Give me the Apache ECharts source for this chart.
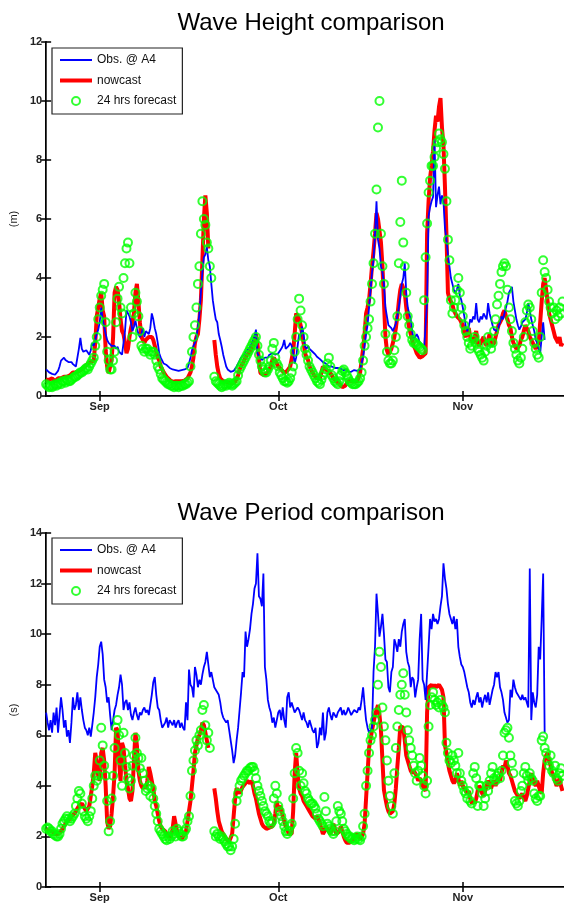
<!DOCTYPE html>
<html><head><meta charset="utf-8">
<script src="https://cdn.jsdelivr.net/npm/echarts@6/dist/echarts.min.js"></script>
<style>html,body{margin:0;padding:0;background:#fff}#c{width:564px;height:907px}</style>
</head><body><div id="c"></div>
<script>
// 6-hourly samples, day 0 = 23 Aug 00:00
const STEP_DAYS = 0.25;
const X_MAX_DAYS = 87;
const monthTickDays = [9, 39, 70];
const monthTickLabels = ['Sep', 'Oct', 'Nov'];
const seriesNames = ['Obs. @ A4', 'nowcast', '24 hrs forecast'];
const titles = ['Wave Height comparison', 'Wave Period comparison'];
const unitLabels = ['(m)', '(s)'];

// ---- Wave height (m) ----
const obsHs = [
0.9,0.85,0.8,0.78, 0.75,0.8,0.72,0.78, 0.85,1.0,1.2,1.25, 1.3,1.22,1.25,1.15, 1.1,1.15,1.08,1.1,
1.0,1.05,1.6,1.97, 1.6,1.5,1.45,1.55, 1.5,1.4,1.55,1.8, 1.7,1.9,2.1,2.25, 2.5,3.0,2.6,2.35,
2.1,1.9,1.8,1.75, 1.7,1.65,1.7,1.6, 1.67,1.5,1.45,1.4, 1.45,2.2,2.9,2.8, 2.7,2.5,2.2,2.35,
2.55,2.3,2.1,2.0, 2.1,2.3,2.0,2.2, 2.25,2.1,2.3,2.8, 2.6,2.3,2.1,1.8, 1.45,1.3,1.2,1.1,
1.1,1.05,1.0,0.95, 0.94,0.9,0.92,0.88, 0.88,0.85,0.9,0.88, 0.88,0.9,0.85,0.95, 1.1,1.3,1.55,1.7,
1.8,2.0,2.35,2.8, 3.5,4.2,4.7,4.8, 5.05,4.6,4.4,3.8, 3.25,2.9,2.6,2.5, 2.1,1.9,1.67,1.4,
1.2,1.0,0.9,0.85, 0.82,0.8,0.85,0.9, 1.0,1.1,1.2,1.3, 1.33,1.4,1.5,1.55, 1.6,1.67,1.7,1.9,
2.0,2.25,1.45,1.35, 1.3,1.22,1.2,1.3, 1.25,1.3,1.4,1.45, 1.45,1.5,1.4,1.45, 1.45,1.5,1.6,1.7,
1.9,1.6,1.55,1.7, 1.8,1.7,1.5,1.1, 1.3,1.7,2.1,2.0, 2.35,2.1,1.67,1.6, 1.7,1.6,1.55,1.5,
1.45,1.4,1.33,1.3, 1.25,1.2,1.15,1.1, 1.1,1.05,1.0,1.05, 1.0,1.0,0.95,1.0, 0.95,0.9,0.92,0.88,
0.88,0.85,0.9,0.82, 0.85,0.82,0.85,0.88, 0.9,0.85,0.88,0.9, 0.88,1.33,1.7,2.1, 2.4,3.0,3.6,4.2,
4.6,5.5,6.6,5.3, 5.0,4.4,4.2,3.8, 3.0,2.7,2.4,2.35, 2.3,2.2,2.25,2.45, 2.7,3.0,3.4,3.8,
4.0,4.5,3.5,3.0, 2.8,2.6,2.2,1.9, 1.9,2.1,2.0,1.8, 1.8,1.7,1.6,1.55, 3.2,6.1,6.4,6.6,
6.75,8.7,6.4,6.8, 7.1,6.5,6.8,6.6, 5.7,5.3,4.8,4.4, 4.0,3.8,3.6,3.5, 3.6,3.8,3.4,3.25,
3.0,2.7,2.35,2.2, 2.35,2.6,2.5,2.7, 2.6,3.15,2.6,2.5, 2.7,2.6,2.8,2.7, 2.6,3.15,2.8,2.6,
2.4,2.25,2.3,2.2, 2.25,2.5,2.7,2.6, 2.8,3.0,3.2,3.5, 3.6,3.7,3.2,2.9, 2.6,2.4,2.25,2.35,
2.5,2.45,2.6,2.8, 3.15,2.9,2.6,2.4, 2.2,1.9,1.8,1.6, 1.45,2.0,2.5,1.9
];
const nowHs = [
0.55,0.5,0.55,0.6, 0.6,0.55,0.5,0.55, 0.6,0.55,0.6,0.6, 0.65,0.6,0.65,0.7, 0.7,0.75,0.8,0.75,
0.8,0.85,0.85,0.9, 0.9,0.95,1.0,1.05, 1.1,1.1,1.15,1.2, 1.2,1.8,2.7,3.0, 3.3,3.5,2.9,2.7,
1.55,1.0,0.78,1.0, 1.22,2.0,3.5,3.7, 3.6,3.2,2.6,2.2, 2.1,1.8,1.45,1.6, 2.0,2.3,2.5,2.8,
3.5,3.8,3.2,2.5, 2.0,1.9,1.8,1.9, 1.9,2.0,1.95,2.0, 1.9,1.7,1.5,1.3, 1.2,1.0,0.9,0.8,
0.75,0.65,0.6,0.55, 0.5,0.48,0.48,0.5, 0.48,0.5,0.48,0.5, 0.5,0.52,0.55,0.6, 0.65,0.8,1.0,1.3,
1.8,2.0,2.1,2.6, 3.25,4.6,6.0,6.8, 6.2,5.0,null,null, null,1.9,1.4,1.0, 0.75,0.6,0.55,0.5,
0.5,0.48,0.45,0.45, 0.45,0.42,0.45,0.48, 0.5,0.7,0.9,1.0, 1.1,1.2,1.3,1.4, 1.45,1.5,1.6,1.7,
1.9,2.1,1.8,1.2, 0.78,0.75,0.72,0.75, 0.75,0.8,0.9,1.0, 1.22,1.3,1.2,1.1, 1.0,0.95,0.9,0.85,
0.78,0.8,0.85,0.9, 1.0,1.0,1.5,2.1, 2.8,2.7,2.6,2.4, 2.1,1.8,1.45,1.3, 1.22,1.0,0.9,0.8,
0.7,0.65,0.6,0.6, 0.6,0.8,1.0,0.95, 0.9,0.88,0.85,0.8, 0.7,0.6,0.55,0.5, 0.45,0.4,0.35,0.3,
0.3,0.35,0.4,0.5, 0.55,0.5,0.48,0.5, 0.5,0.5,0.55,0.8, 1.2,1.6,2.1,2.8, 3.0,3.25,3.8,4.4,
4.9,5.5,6.2,6.0, 5.6,5.2,4.4,3.2, 2.0,1.55,1.4,1.5, 1.6,1.8,2.0,2.3, 2.7,3.2,3.6,3.8,
3.8,3.5,3.0,2.6, 2.3,2.1,1.9,1.7, 1.6,1.45,1.4,1.3, 1.3,1.35,1.4,1.45, 5.5,6.6,7.4,7.8,
8.3,9.0,9.5,9.3, 9.8,10.1,9.1,8.5, 7.1,5.5,3.5,3.3, 3.25,3.1,2.9,2.8, 2.7,2.7,2.6,2.5,
2.4,2.1,2.0,2.2, 2.3,2.0,1.9,1.8, 2.0,2.2,1.8,1.7, 1.8,1.9,2.0,1.8, 1.7,1.9,2.1,1.7,
1.65,1.8,2.0,2.2, 2.4,2.5,2.6,2.8, 2.9,2.7,2.6,2.4, 2.3,2.0,1.8,1.7, 1.6,1.55,1.7,1.9,
2.0,2.2,2.4,2.3, 2.2,2.0,1.9,1.8, 1.7,1.6,1.6,1.8, 2.5,3.2,3.8,4.0, 3.6,3.2,2.8,2.6,
2.4,2.2,2.0,1.9, 1.8,2.0,1.7,1.8
];
const fcstHs = [
0.4,0.35,0.3,0.35, 0.3,0.35,0.4,0.35, 0.4,0.45,0.4,0.5, 0.5,0.45,0.55,0.5, 0.5,0.55,0.6,0.65,
0.65,0.7,0.75,0.8, 0.8,0.85,0.9,0.95, 0.9,1.0,1.1,1.2, 1.3,1.7,2.0,2.6, 3.0,3.4,3.6,3.8,
2.5,1.5,1.2,0.9, 0.9,1.2,1.5,2.5, 3.3,3.7,3.0,2.8, 4.0,4.5,5.0,5.2, 4.5,3.0,2.0,2.8,
3.5,3.2,2.7,2.2, 1.7,1.6,1.5,1.6, 1.6,1.5,1.4,1.5, 1.5,1.4,1.2,1.0, 0.9,0.75,0.6,0.55,
0.5,0.45,0.4,0.4, 0.35,0.35,0.3,0.35, 0.35,0.3,0.35,0.35, 0.35,0.4,0.4,0.45, 0.5,1.0,1.5,2.0,
2.4,3.0,3.8,4.4, 5.5,6.6,6.0,5.8, 5.2,5.0,4.4,4.0, null,0.65,0.5,0.45, 0.4,0.35,0.3,0.35,
0.4,0.35,0.4,0.45, 0.4,0.35,0.4,0.45, 0.5,0.7,0.9,1.0, 1.1,1.2,1.3,1.4, 1.5,1.6,1.7,1.8,
1.9,2.0,1.7,1.4, 1.2,1.0,0.9,0.8, 0.8,0.9,1.0,1.2, 1.6,1.8,1.3,1.1, 1.0,0.8,0.7,0.6,
0.5,0.5,0.45,0.5, 0.6,0.8,1.0,1.5, 2.0,2.6,3.3,2.9, 2.4,2.0,1.6,1.4, 1.2,1.0,0.9,0.8,
0.7,0.6,0.5,0.45, 0.4,0.55,0.7,0.8, 0.9,1.1,1.3,1.0, 0.7,0.6,0.5,0.45, 0.4,0.5,0.7,0.85,
0.9,0.8,0.7,0.6, 0.5,0.45,0.4,0.4, 0.4,0.45,0.5,0.6, 0.8,1.2,1.7,2.0, 2.3,2.6,3.2,3.8,
4.5,5.5,7.0,9.1, 10.0,5.5,4.4,3.8, 2.1,1.5,1.2,1.1, 1.1,1.2,1.55,2.0, 2.7,4.5,5.9,7.3,
5.2,4.4,3.5,2.7, 2.4,2.1,1.9,1.8, 1.8,1.75,1.7,1.65, 1.6,1.55,3.25,4.7, 5.85,6.9,7.3,7.8,
7.8,8.1,8.4,8.6, 8.9,8.7,8.6,8.2, 7.7,6.6,5.3,4.6, 3.25,2.8,3.0,3.25, 3.6,4.0,3.5,3.0,
2.7,2.4,2.2,2.0, 1.8,1.6,1.7,1.9, 2.0,1.8,1.6,1.5, 1.4,1.3,1.2,1.5, 1.7,2.0,1.8,1.6,
1.8,2.2,2.6,3.1, 3.4,3.8,4.2,4.4, 4.5,4.4,3.6,3.0, 2.6,2.2,1.8,1.6, 1.4,1.2,1.1,1.3,
1.6,2.0,2.5,2.9, 3.1,3.0,2.6,2.2, 1.8,1.6,1.4,1.3, 2.0,3.5,4.6,4.2, 4.0,3.6,3.2,3.0,
2.8,3.0,2.6,2.9, 2.7,3.0,2.8,3.2
];

// ---- Wave period (s) ----
const obsTp = [
6.9,6.5,6.2,6.6, 6.1,6.9,6.4,7.1, 6.1,6.8,7.5,7.0, 6.3,6.6,5.95,6.2, 5.7,6.5,7.5,7.0,
7.2,7.7,7.0,7.5, 7.0,6.6,6.3,6.2, 6.0,6.3,5.95,6.4, 6.9,7.5,8.3,8.8, 9.5,9.7,9.2,8.2,
7.9,7.3,7.5,6.8, 6.2,6.6,7.0,7.2, 7.6,7.9,8.4,8.0, 7.0,7.3,7.4,7.0, 7.3,6.8,6.6,6.9,
7.1,6.8,6.6,6.9, 6.8,7.0,7.1,6.9, 7.0,6.8,7.2,7.6, 8.1,8.3,7.6,7.1, 7.0,6.6,6.3,6.4,
6.5,6.7,6.3,6.6, 6.5,6.4,6.6,6.3, 6.5,6.6,6.3,6.5, 6.3,6.2,7.3,6.6, 8.6,8.0,7.9,7.5,
8.7,8.4,7.9,8.2, 8.0,8.4,8.7,8.9, 9.3,8.8,8.3,8.5, 8.2,7.9,7.9,7.7, 7.6,7.3,6.9,6.7,
6.6,6.5,6.6,6.2, 5.8,5.4,4.9,5.2, 5.8,6.3,7.0,7.7, 8.5,8.3,10.1,9.5, 9.8,10.2,10.8,11.2,
11.8,12.0,13.2,11.5, 11.4,11.1,12.4,8.7, 8.2,7.4,7.1,6.9, 6.5,6.7,6.3,6.6, 6.9,7.0,6.6,7.1,
6.6,6.3,7.5,7.7, 7.1,7.3,7.1,6.9, 6.9,7.1,7.0,6.8, 6.6,6.9,6.6,6.5, 6.3,6.6,6.4,6.2,
6.1,6.3,5.5,5.7, 6.3,6.0,6.9,5.8, 6.1,6.9,7.1,6.8, 6.6,6.9,6.9,6.7, 6.9,7.0,7.1,6.8,
7.0,6.8,6.9,7.1, 7.1,6.8,6.9,7.0, 7.0,6.9,7.1,7.0, 7.4,7.9,7.2,6.6, 6.3,6.1,6.2,6.3,
8.5,9.5,11.6,10.8, 9.9,10.3,10.8,10.0, 9.0,8.9,7.9,7.7, 8.5,8.7,9.8,9.6, 9.3,9.8,9.5,10.1,
10.4,10.6,9.3,8.9, 8.7,7.9,8.3,8.2, 7.5,7.9,8.2,9.8, 10.8,8.2,8.0,7.4, 7.4,9.5,10.6,10.2,
10.8,10.5,10.6,10.4, 10.6,11.1,11.5,12.8, 12.2,11.8,11.2,10.8, 10.6,10.4,10.7,10.2, 10.6,9.5,9.1,8.8,
8.7,8.5,8.2,7.9, 7.7,7.3,7.1,7.4, 7.2,7.5,7.7,7.3, 7.5,7.1,7.4,7.6, 7.3,7.7,7.2,7.5,
7.8,8.0,8.5,8.3, 8.5,7.9,7.7,7.4, 6.9,6.7,6.5,6.6, 7.8,7.5,8.2,7.9, 7.7,7.6,7.5,7.4,
7.6,7.4,7.5,7.3, 7.1,12.6,6.6,7.7, 7.3,7.1,7.6,9.5, 9.0,10.6,12.4,6.1
];
const nowTp = [
2.3,2.25,2.2,2.2, 2.2,2.15,2.1,2.1, 2.1,2.15,2.2,2.3, 2.4,2.5,2.6,2.6, 2.7,2.8,2.8,2.9,
3.0,3.1,3.2,3.2, 3.3,3.2,3.1,3.0, 3.0,3.2,3.6,4.0, 4.5,5.3,5.0,4.4, 4.2,5.3,5.5,5.0,
4.0,2.6,2.3,2.4, 2.9,3.6,4.5,6.3, 6.2,5.0,4.2,5.7, 5.5,4.8,4.2,3.9, 3.5,3.4,3.8,5.0,
6.1,5.6,4.6,4.2, 4.0,3.9,4.0,3.9, 4.2,4.75,4.5,4.2, 3.9,3.4,3.2,2.9, 2.6,2.4,2.3,2.3,
2.2,2.1,2.0,1.95, 2.0,2.3,2.8,2.5, 2.2,2.0,1.95,1.9, 2.0,2.1,2.2,2.6, 3.0,3.4,4.0,4.6,
5.3,5.6,5.9,6.0, 6.2,6.5,6.4,6.1, 5.8,5.5,null,null, null,3.9,3.5,3.0, 2.6,2.4,2.2,2.1,
2.0,1.9,1.85,1.8, 1.85,2.1,2.8,3.5, 3.9,3.8,3.7,3.7, 3.96,4.0,4.1,4.2, 4.2,4.1,4.2,4.0,
3.7,3.5,3.2,2.9, 2.7,2.5,2.4,2.4, 2.3,2.3,2.35,2.3, 2.4,2.5,2.9,3.4, 3.0,3.2,3.1,2.8,
2.6,2.4,2.3,2.1, 2.1,2.1,3.0,4.5, 5.3,4.5,3.9,3.7, 3.6,3.4,3.3,3.2, 3.2,3.0,2.9,2.8,
2.8,2.7,2.8,2.7, 2.5,2.3,2.1,2.2, 2.4,2.3,2.2,2.1, 2.3,2.5,2.3,2.1, 2.1,2.2,2.4,2.2,
2.0,1.85,1.75,1.7, 1.75,1.8,1.9,2.0, 2.0,2.1,2.0,1.9, 2.0,2.1,2.5,3.5, 4.5,5.5,5.85,6.2,
6.5,6.8,7.0,7.2, 6.8,6.2,5.0,3.84, 3.5,3.2,3.0,2.9, 2.9,3.0,3.3,3.9, 4.75,5.5,6.35,6.3,
6.3,5.8,5.2,5.0, 4.8,4.6,4.5,4.6, 4.5,4.4,4.2,4.3, 4.2,4.0,3.9,3.8, 6.9,7.9,7.9,8.0,
7.9,8.0,7.9,7.9, 8.0,7.9,7.8,7.5, 5.6,5.3,4.9,4.6, 4.4,4.2,4.1,4.2, 4.5,4.3,4.0,4.2,
4.0,3.9,3.8,3.7, 3.8,3.5,3.3,3.4, 3.3,3.5,3.8,4.0, 3.9,3.7,3.6,3.8, 4.0,4.2,4.1,3.9,
4.1,4.2,4.0,4.2, 4.3,4.2,4.5,4.8, 4.7,5.0,4.8,4.5, 4.4,4.2,4.0,3.8, 3.7,3.6,3.5,3.6,
3.7,3.5,3.4,3.6, 3.9,4.2,4.5,4.3, 4.1,4.0,4.2,4.0, 3.8,3.7,4.5,5.0, 5.2,5.3,5.0,4.8,
4.5,4.4,4.2,4.0, 4.1,4.3,4.0,3.8
];
const fcstTp = [
2.3,2.35,2.3,2.2, 2.2,2.1,2.05,2.0, 2.0,2.1,2.3,2.5, 2.6,2.7,2.8,2.7, 2.6,2.7,2.8,2.9,
3.2,3.5,3.8,3.7, 3.3,3.0,2.8,2.7, 2.6,2.8,3.0,3.5, 4.0,4.4,4.2,4.4, 5.0,6.3,5.6,4.8,
4.4,3.4,2.2,2.6, 3.5,4.4,5.5,6.3, 6.6,6.0,5.0,4.0, 6.1,5.3,4.75,4.3, 3.9,4.2,4.8,5.2,
5.9,5.3,5.1,4.7, 5.1,4.5,4.2,3.8, 3.9,4.0,3.6,3.9, 3.5,3.2,2.9,2.6, 2.3,2.2,2.1,2.0,
1.9,1.85,2.0,1.9, 2.0,2.2,2.1,2.0, 2.3,2.2,2.1,2.0, 2.0,2.2,2.3,2.6, 2.8,3.6,4.6,5.0,
5.4,5.8,5.6,6.0, 6.2,7.0,7.2,6.4, 5.8,6.1,5.5,null, null,2.2,2.0,2.1, 2.0,1.9,2.0,1.9,
1.8,1.7,1.6,1.6, 1.45,1.6,1.9,2.5, 3.4,3.7,4.0,4.2, 4.3,4.4,4.5,4.6, 4.6,4.7,4.75,4.75,
4.6,4.3,4.0,3.8, 3.6,3.4,3.2,3.0, 2.9,2.8,2.6,2.5, 2.6,3.5,4.0,3.7, 3.2,3.0,2.8,2.6,
2.4,2.2,2.1,2.2, 2.4,2.5,3.5,4.5, 5.5,5.3,4.6,4.0, 4.5,4.1,3.8,3.7, 3.5,3.4,3.3,3.3,
3.2,3.1,2.9,2.7, 2.6,2.5,2.4,3.56, 3.0,2.5,2.4,2.3, 2.2,2.1,2.2,2.6, 3.2,3.0,2.9,2.6,
2.3,2.2,2.1,2.0, 2.0,1.9,1.95,1.85, 1.9,2.0,1.9,1.85, 2.0,2.4,2.9,4.0, 4.6,5.3,5.8,6.0,
6.35,6.6,6.9,8.0, 9.3,8.7,7.1,6.35, 5.8,5.0,4.2,3.6, 3.2,2.9,4.5,5.5, 6.35,7.0,7.6,8.0,
8.45,7.6,6.9,6.2, 5.8,5.5,5.2,4.8, 4.5,4.2,4.6,5.1, 4.8,4.4,4.0,3.7, 4.2,6.35,7.2,7.5,
7.7,7.4,7.2,7.3, 7.1,7.4,7.2,7.1, 6.9,5.7,5.3,5.0, 4.9,5.2,5.0,4.8, 4.5,5.3,4.5,4.2,
4.0,3.8,3.7,3.5, 3.8,3.4,3.3,4.5, 4.75,4.3,3.2,4.0, 4.0,3.7,3.2,3.5, 4.0,3.8,4.2,4.5,
4.75,4.3,4.2,4.4, 4.5,4.3,4.6,5.2, 6.1,6.2,6.3,5.9, 5.2,4.9,4.5,3.4, 3.3,3.2,3.4,3.8,
4.0,4.5,4.75,4.4, 4.2,4.5,4.3,4.2, 3.7,3.5,3.4,3.6, 3.6,5.8,5.95,5.5, 5.3,5.0,4.8,5.2,
4.6,4.5,4.8,4.3, 4.2,4.5,4.7,4.4
];

const panels = [
  {obs: obsHs, now: nowHs, fcst: fcstHs, yMax: 12, top: 42, height: 354, titleTop: 6, legendTop: 48},
  {obs: obsTp, now: nowTp, fcst: fcstTp, yMax: 14, top: 533, height: 354, titleTop: 496, legendTop: 538}
];

const FONT = '"Liberation Sans", Arial, sans-serif';
const COLORS = {obs: '#0000ff', now: '#ff0000', fcst: '#00ff00'};
const toPairs = arr => arr.map((v, i) => [i * STEP_DAYS, v]);
const toPoints = arr => arr.map((v, i) => [i * STEP_DAYS, v]).filter(p => p[1] !== null);
const monthLabel = v => { const k = monthTickDays.indexOf(Math.round(v)); return k >= 0 ? monthTickLabels[k] : ''; };
const hidden = {color: 'rgba(0,0,0,0)', borderColor: 'rgba(0,0,0,0)', borderWidth: 0, opacity: 0};

const option = {
  animation: false,
  backgroundColor: '#fff',
  title: [], legend: [], grid: [], xAxis: [], yAxis: [], series: []
};

panels.forEach((p, g) => {
  option.title.push({
    text: titles[g], left: 306, top: p.titleTop, textAlign: 'center',
    textStyle: {fontFamily: FONT, fontSize: 24, fontWeight: 'normal', color: '#000'}
  });
  option.grid.push({left: 46, top: p.top, width: 520, height: p.height});
  const xBase = {
    gridIndex: g, type: 'value', min: 0, max: X_MAX_DAYS,
    splitLine: {show: false}
  };
  option.xAxis.push(Object.assign({}, xBase, {
    position: 'bottom',
    axisLine: {show: true, lineStyle: {color: '#000', width: 2}},
    axisTick: {show: true, inside: true, length: 5, customValues: monthTickDays, lineStyle: {color: '#000', width: 1.5}},
    axisLabel: {show: true, customValues: monthTickDays, formatter: monthLabel, margin: 5,
      fontFamily: FONT, fontSize: 11, fontWeight: 'bold', color: '#222'}
  }));
  option.xAxis.push(Object.assign({}, xBase, {
    position: 'top',
    axisLine: {show: true, lineStyle: {color: '#444', width: 1}},
    axisTick: {show: true, inside: true, length: 5, customValues: monthTickDays, lineStyle: {color: '#000', width: 1.5}},
    axisLabel: {show: false}
  }));
  const yBase = {gridIndex: g, type: 'value', min: 0, max: p.yMax, interval: 2, splitLine: {show: false}};
  option.yAxis.push(Object.assign({}, yBase, {
    position: 'left',
    name: unitLabels[g], nameLocation: 'middle', nameGap: 27,
    nameTextStyle: {fontFamily: FONT, fontSize: 11, color: '#222'},
    axisLine: {show: true, lineStyle: {color: '#000', width: 2}},
    axisTick: {show: true, inside: true, length: 5, lineStyle: {color: '#000', width: 1.5}},
    axisLabel: {margin: 4, fontFamily: FONT, fontSize: 11, fontWeight: 'bold', color: '#222'}
  }));
  option.yAxis.push(Object.assign({}, yBase, {
    position: 'right',
    axisLine: {show: true, lineStyle: {color: '#444', width: 1}},
    axisTick: {show: true, inside: true, length: 5, lineStyle: {color: '#000', width: 1.5}},
    axisLabel: {show: false}
  }));
  const xi = g * 2, yi = g * 2;
  option.series.push({
    name: seriesNames[1], type: 'line', xAxisIndex: xi, yAxisIndex: yi,
    data: toPairs(p.now), symbol: 'none', showSymbol: false, connectNulls: false,
    lineStyle: {color: COLORS.now, width: 4}, itemStyle: {color: COLORS.now}, z: 2
  });
  option.series.push({
    name: seriesNames[0], type: 'line', xAxisIndex: xi, yAxisIndex: yi,
    data: toPairs(p.obs), symbol: 'none', showSymbol: false,
    lineStyle: {color: COLORS.obs, width: 1.8}, itemStyle: {color: COLORS.obs}, z: 3
  });
  option.series.push({
    name: seriesNames[2], type: 'scatter', xAxisIndex: xi, yAxisIndex: yi,
    data: toPoints(p.fcst), symbol: 'circle', symbolSize: 8,
    itemStyle: {color: 'rgba(0,0,0,0)', borderColor: COLORS.fcst, borderWidth: 2}, z: 4
  });
  option.legend.push({
    orient: 'vertical', left: 52, top: p.legendTop,
    padding: [6, 6, 7, 6], itemWidth: 32, itemHeight: 8, itemGap: 8.5,
    backgroundColor: '#fff', borderColor: '#222', borderWidth: 1.2,
    selectedMode: false,
    textStyle: {fontFamily: FONT, fontSize: 12, color: '#111'},
    data: [
      {name: seriesNames[0], itemStyle: hidden, lineStyle: {color: COLORS.obs, width: 2}},
      {name: seriesNames[1], itemStyle: hidden, lineStyle: {color: COLORS.now, width: 4}},
      {name: seriesNames[2], icon: 'circle', itemStyle: {color: 'rgba(0,0,0,0)', borderColor: COLORS.fcst, borderWidth: 2}}
    ]
  });
});

const chart = echarts.init(document.getElementById('c'), null, {renderer: 'canvas'});
chart.setOption(option);
</script>
</body></html>
